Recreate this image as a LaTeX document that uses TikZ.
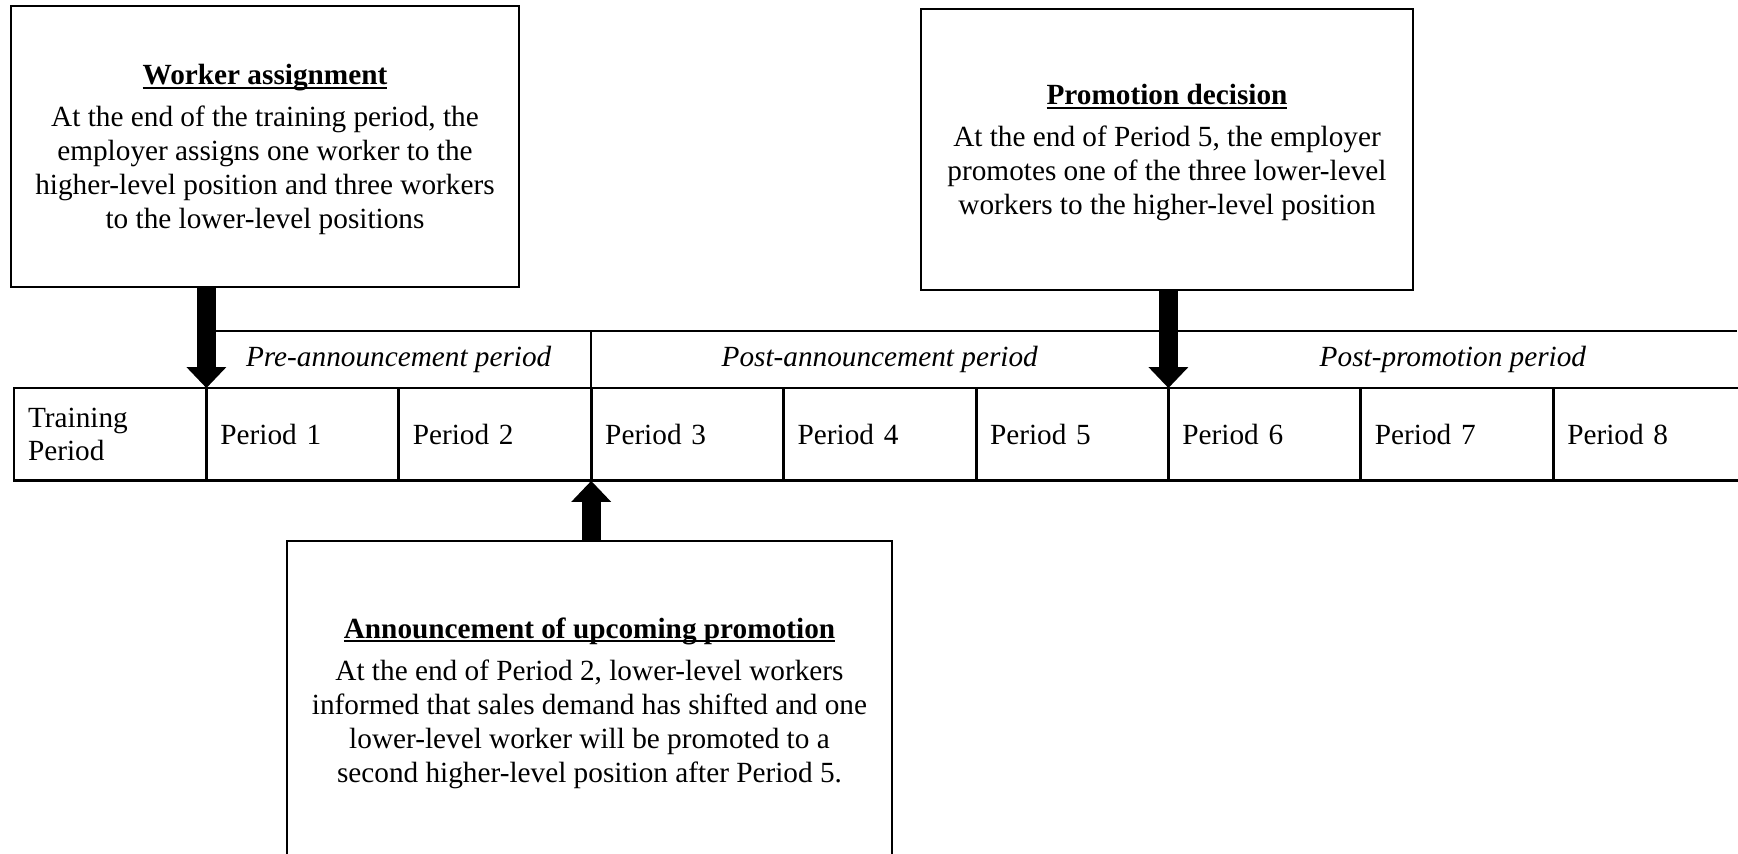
\documentclass[tikz,border=0pt]{standalone}
\usepackage{fontspec}
\setmainfont{Liberation Serif}
\usetikzlibrary{positioning,arrows.meta}

\newcommand{\bodysize}{\fontsize{12}{13.9}\selectfont}
\newcommand{\titleul}[1]{\rule{0pt}{10.9pt}\setbox0\hbox{\textbf{#1}}\rlap{\rule[-1.7pt]{\wd0}{0.8pt}}\box0}

\begin{document}
\begin{tikzpicture}[x=0.41pt,y=-0.41pt,
	event/.style={draw,line width=0.6pt,align=center,inner sep=0pt,font=\bodysize},
	cell/.style={draw,line width=1.2pt,outer sep=0pt,anchor=north west,minimum width=78.9pt,minimum height=38.1pt,text width=67.4pt,inner xsep=0pt,align=left,font=\bodysize},
	head/.style={anchor=north west,minimum height=23.4pt,inner sep=0pt,outer sep=0pt,font=\bodysize\itshape},
	hline/.style={line width=0.6pt},
	blockarrow/.style={line width=7.8pt,-{Triangle[length=8.6pt,width=16.4pt,line width=0pt]}}]
			\useasboundingbox (0,0) rectangle (1738,853);

			% phases above the timeline
			\node[head,minimum width=157.7pt] (pre) at (206.4,331) {Pre-announcement period};
			\node[head,minimum width=236.6pt] (postann) at (591.2,331) {Post-announcement period};
			\node[head,minimum width=233.3pt] (postpro) at (1168.4,331) {Post-promotion period};
			\draw[hline] (pre.north west) -- (postpro.north east);
			\draw[hline] (pre.north east) -- (pre.south east);

			% timeline
			\node[cell] (c0) at (14,388) {Training\\Period};
			\foreach \i in {1,...,8}
				\node[cell] (c\i) at ({14+192.4*\i},388) {Period \i};

			% events
			\node[event,minimum width=208.3pt,minimum height=115.2pt] (wa) at (265,146.5) {\titleul{Worker assignment}\\[3.4pt]
				At the end of the training period, the\\ employer assigns one worker to the\\ higher-level position and three workers\\ to the lower-level positions};
			\node[event,minimum width=201.7pt,minimum height=115.2pt] (pd) at (1167,149.5) {\titleul{Promotion decision}\\[3.4pt]
				At the end of Period 5, the employer\\ promotes one of the three lower-level\\ workers to the higher-level position};
			\node[event,minimum width=248pt,minimum height=130.4pt] (an) at (589.5,700) {\titleul{Announcement of upcoming promotion}\\[3.4pt]
				At the end of Period 2, lower-level workers\\ informed that sales demand has shifted and one\\ lower-level worker will be promoted to a\\ second higher-level position after Period 5.};

			\draw[blockarrow] (c1.north west |- wa.south) -- (c1.north west);
			\draw[blockarrow] (c6.north west |- pd.south) -- (c6.north west);
			\draw[blockarrow] (c3.south west |- an.north) -- (c3.south west);
		\end{tikzpicture}
\end{document}
